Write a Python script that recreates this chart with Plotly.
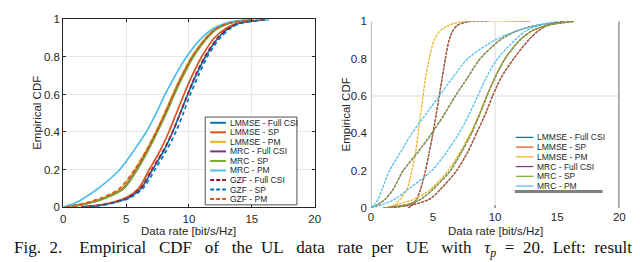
import plotly.graph_objects as go

W, H = 640, 262

# ---------------- data: left panel ----------------
cdf_left = [0, 0.01, 0.02, 0.05, 0.1, 0.2, 0.3, 0.4, 0.5, 0.6, 0.7, 0.8, 0.9, 0.95, 0.98, 1.0]
lmmse_full_L = [1.5, 3.0, 3.8, 5.2, 6.2, 7.1, 8.0, 8.7, 9.3, 9.9, 10.55, 11.3, 12.3, 13.1, 14.0, 16.3]
lmmse_sp_L = [1.4, 2.9, 3.6, 5.0, 6.0, 6.85, 7.7, 8.4, 9.0, 9.6, 10.25, 11.0, 12.0, 12.9, 13.9, 16.0]
lmmse_pm_L = [0.2, 1.1, 1.8, 3.2, 4.6, 5.7, 6.6, 7.35, 8.05, 8.7, 9.4, 10.2, 11.3, 12.1, 13.1, 15.0]
mrc_full_L = [0.3, 1.3, 2.0, 3.4, 4.8, 5.85, 6.7, 7.45, 8.15, 8.8, 9.5, 10.3, 11.4, 12.2, 13.2, 15.0]
mrc_sp_L = [0.3, 1.3, 2.0, 3.45, 4.85, 5.9, 6.75, 7.5, 8.2, 8.85, 9.55, 10.35, 11.45, 12.25, 13.25, 15.1]
mrc_pm_L = [0.0, 0.5, 0.9, 1.7, 2.8, 4.5, 5.6, 6.6, 7.4, 8.1, 8.9, 9.8, 11.0, 11.9, 12.9, 14.5]
gzf_full_L = [1.5, 3.0, 3.8, 5.15, 6.15, 7.05, 7.95, 8.7, 9.3, 9.9, 10.5, 11.25, 12.25, 13.1, 14.0, 16.2]
gzf_sp_L = [1.6, 3.1, 3.9, 5.35, 6.35, 7.3, 8.2, 8.95, 9.55, 10.1, 10.75, 11.45, 12.45, 13.25, 14.1, 16.4]
gzf_pm_L = [0.2, 1.0, 1.7, 3.1, 4.5, 5.7, 6.6, 7.4, 8.1, 8.75, 9.45, 10.25, 11.35, 12.15, 13.15, 15.2]

left_names = ["LMMSE - Full CSI", "LMMSE - SP", "LMMSE - PM", "MRC - Full CSI", "MRC - SP",
              "MRC - PM", "GZF - Full CSI", "GZF - SP", "GZF - PM"]

# ---------------- data: right panel ----------------
cdf_right = [0, 0.02, 0.05, 0.1, 0.2, 0.3, 0.4, 0.5, 0.6, 0.7, 0.8, 0.9, 0.95, 0.98, 1.0, 1.0]
lmmse_full_A = [3.0, 3.4, 3.7, 4.0, 4.4, 4.7, 5.0, 5.25, 5.5, 5.75, 6.0, 6.3, 6.6, 7.0, 8.0, 9.5]
lmmse_sp_A = [3.0, 3.4, 3.7, 4.0, 4.4, 4.7, 5.0, 5.25, 5.5, 5.75, 6.0, 6.3, 6.6, 7.0, 8.0, 12.8]
lmmse_pm_A = [1.6, 2.0, 2.4, 2.9, 3.3, 3.6, 3.8, 4.0, 4.2, 4.4, 4.7, 5.1, 5.6, 6.3, 7.5, 12.6]
mrc_full_A = [0.0, 0.6, 1.2, 1.8, 2.6, 3.8, 4.9, 5.9, 6.8, 7.8, 8.8, 10.4, 11.8, 13.5, 16.3, 16.3]
mrc_sp_A = [0.0, 0.6, 1.2, 1.8, 2.6, 3.8, 4.9, 5.9, 6.8, 7.8, 8.8, 10.4, 11.8, 13.5, 16.3, 16.3]
mrc_pm_A = [0.0, 0.3, 0.6, 0.9, 1.5, 2.4, 3.3, 4.4, 5.5, 6.6, 7.8, 10.0, 11.8, 13.5, 15.5, 15.5]
lmmse_full_B = [1.5, 3.5, 4.8, 5.6, 6.9, 7.8, 8.5, 9.2, 9.8, 10.5, 11.5, 12.7, 13.5, 14.3, 15.5, 15.5]
lmmse_sp_B = [1.5, 3.5, 4.8, 5.6, 6.9, 7.8, 8.5, 9.2, 9.8, 10.5, 11.5, 12.7, 13.5, 14.3, 15.5, 15.5]
lmmse_pm_B = [1.0, 2.2, 3.6, 4.8, 6.2, 7.2, 8.0, 8.7, 9.3, 10.0, 10.8, 12.0, 13.0, 14.3, 16.2, 16.2]
mrc_full_B = [1.0, 3.0, 4.1, 5.0, 6.4, 7.3, 8.1, 8.75, 9.35, 10.0, 10.8, 12.0, 13.0, 14.3, 16.4, 16.4]
mrc_sp_B = [1.0, 3.0, 4.1, 5.0, 6.4, 7.3, 8.1, 8.75, 9.35, 10.0, 10.8, 12.0, 13.0, 14.3, 16.4, 16.4]
mrc_pm_B = [0.0, 1.0, 2.0, 3.0, 4.9, 6.1, 7.1, 7.9, 8.6, 9.3, 10.2, 11.6, 12.5, 13.6, 15.0, 15.0]

right_names = ["LMMSE - Full CSI", "LMMSE - SP", "LMMSE - PM", "MRC - Full CSI", "MRC - SP", "MRC - PM"]

x_ticks = [0, 5, 10, 15, 20]
y_ticks = [0, 0.2, 0.4, 0.6, 0.8, 1]

caption_words = ["Fig.", "2.", "Empirical", "CDF", "of", "the", "UL", "data", "rate", "per", "UE",
                 "with", "<i>τ<sub>p</sub></i>", "=", "20.", "Left:", "result"]
caption_gaps = [2, 4, 3, 3, 3, 2, 3, 3, 2, 3, 3, 3, 2, 2, 2, 2]

# ---------------- styling ----------------
C_BLUE, C_ORANGE, C_YELLOW = "#0072BD", "#D95319", "#EDB120"
C_PURPLE, C_GREEN, C_LBLUE, C_RED = "#7E2F8E", "#77AC30", "#4DBEEE", "#A2142F"
left_colors = [C_BLUE, C_ORANGE, C_YELLOW, C_PURPLE, C_GREEN, C_LBLUE, C_RED, C_BLUE, C_ORANGE]
left_dash = ["solid"] * 6 + ["4px,3px"] * 3
right_colors = [C_BLUE, C_ORANGE, C_YELLOW, C_PURPLE, C_GREEN, C_LBLUE]
TXT = "#262626"
FONT = "Liberation Sans, Arial, sans-serif"


def px_x(p):
    return p / W


def px_y(p):
    return 1 - p / H


def dedup(xs, ys):
    ox, oy = [], []
    for a, b in zip(xs, ys):
        if ox and a == ox[-1] and b == oy[-1]:
            continue
        ox.append(a)
        oy.append(b)
    return ox, oy


fig = go.Figure()

left_series = [lmmse_full_L, lmmse_sp_L, lmmse_pm_L, mrc_full_L, mrc_sp_L, mrc_pm_L,
               gzf_full_L, gzf_sp_L, gzf_pm_L]
for name, xs, col, dsh in zip(left_names, left_series, left_colors, left_dash):
    fig.add_trace(go.Scatter(x=xs, y=cdf_left, mode="lines", name=name, showlegend=False,
                             line=dict(color=col, width=1.7, dash=dsh, shape="spline", smoothing=0.8),
                             xaxis="x", yaxis="y"))

right_groups = [
    [lmmse_full_A, lmmse_sp_A, lmmse_pm_A, mrc_full_A, mrc_sp_A, mrc_pm_A],
    [lmmse_full_B, lmmse_sp_B, lmmse_pm_B, mrc_full_B, mrc_sp_B, mrc_pm_B],
]
for grp in right_groups:
    for name, xs, col in zip(right_names, grp, right_colors):
        gx, gy = dedup(xs, cdf_right)
        fig.add_trace(go.Scatter(x=gx, y=gy, mode="lines", name=name, showlegend=False,
                                 line=dict(color=col, width=1.25, dash="3px,1px", shape="spline", smoothing=0.8),
                                 xaxis="x2", yaxis="y2"))

L_dom_x = [px_x(53), px_x(308)]
L_dom_y = [px_y(202.3), px_y(5.7)]
R_dom_x = [px_x(365), px_x(617)]
R_dom_y = [px_y(203.3), px_y(7.7)]

tickfont = dict(family=FONT, size=11.5, color=TXT)
fig.update_layout(
    width=W, height=H, margin=dict(l=0, r=0, t=0, b=0),
    paper_bgcolor="white", plot_bgcolor="white",
    xaxis=dict(domain=L_dom_x, range=[0, 20], tickvals=x_ticks, showgrid=True, gridcolor="#e8e8e8",
               zeroline=False, showline=True, mirror="ticks", linecolor=TXT, linewidth=1,
               ticks="inside", ticklen=3, tickcolor=TXT, tickfont=tickfont, anchor="y",
               ticklabelstandoff=1),
    yaxis=dict(domain=L_dom_y, range=[0, 1], tickvals=y_ticks, showgrid=True, gridcolor="#e8e8e8",
               zeroline=False, showline=True, mirror="ticks", linecolor=TXT, linewidth=1,
               ticks="inside", ticklen=3, tickcolor=TXT, tickfont=tickfont, anchor="x"),
    xaxis2=dict(domain=R_dom_x, range=[0, 20], tickvals=x_ticks, showgrid=False,
                zeroline=False, showline=False, ticks="", tickfont=tickfont, anchor="y2",
                ticklabelstandoff=1),
    yaxis2=dict(domain=R_dom_y, range=[0, 1], tickvals=y_ticks, showgrid=False,
                zeroline=False, showline=False, ticks="", tickfont=tickfont, anchor="x2",
                ticklabelstandoff=3),
)

shapes = []
annotations = []

# right panel grid lines and spines
shapes.append(dict(type="line", xref="x2", yref="y2", x0=10, x1=10, y0=0, y1=1,
                   line=dict(color="#e6e6e6", width=1.5), layer="below"))
shapes.append(dict(type="line", xref="x2", yref="y2", x0=0, x1=20, y0=0.6, y1=0.6,
                   line=dict(color="#e6e6e6", width=1.5), layer="below"))
shapes.append(dict(type="line", xref="x2", yref="y2", x0=0, x1=0, y0=0, y1=1,
                   line=dict(color="#8c8c8c", width=1.3)))
shapes.append(dict(type="line", xref="x2", yref="y2", x0=20, x1=20, y0=-0.03, y1=1,
                   line=dict(color="#333333", width=1.5)))
shapes.append(dict(type="line", xref="x2", yref="paper", x0=10, x1=10, y0=px_y(203.3), y1=px_y(200.5),
                   line=dict(color="#555555", width=1)))

# left legend (manual)
shapes.append(dict(type="rect", xref="paper", yref="paper", x0=px_x(197), x1=px_x(290),
                   y0=px_y(200), y1=px_y(108), line=dict(color=TXT, width=0.8), fillcolor="white"))
for i, (name, col, dsh) in enumerate(zip(left_names, left_colors, left_dash)):
    yy = 114 + 10 * i
    shapes.append(dict(type="line", xref="paper", yref="paper", x0=px_x(202), x1=px_x(218),
                       y0=px_y(yy), y1=px_y(yy), line=dict(color=col, width=2, dash=dsh if dsh == "solid" else "4px,2px")))
    annotations.append(dict(xref="paper", yref="paper", x=px_x(220.5), y=px_y(yy), text=name,
                            showarrow=False, xanchor="left", yanchor="middle",
                            font=dict(family=FONT, size=8.5, color=TXT)))

# right legend (manual)
for i, (name, col) in enumerate(zip(right_names, right_colors)):
    yy = 129.3 + 10.2 * i
    shapes.append(dict(type="line", xref="paper", yref="paper", x0=px_x(512), x1=px_x(530),
                       y0=px_y(yy), y1=px_y(yy), line=dict(color=col, width=1.2)))
    annotations.append(dict(xref="paper", yref="paper", x=px_x(531.5), y=px_y(yy), text=name,
                            showarrow=False, xanchor="left", yanchor="middle",
                            font=dict(family=FONT, size=8.5, color=TXT)))
shapes.append(dict(type="line", xref="paper", yref="paper", x0=px_x(511), x1=px_x(600),
                   y0=px_y(186), y1=px_y(186), line=dict(color="#808080", width=3)))

# axis titles
title_font = dict(family=FONT, size=11.5, color=TXT)
for cx in (180.5, 491):
    annotations.append(dict(xref="paper", yref="paper", x=px_x(cx), y=px_y(227),
                            text="Data rate [bit/s/Hz]", showarrow=False,
                            xanchor="center", yanchor="middle", font=title_font))
for cx, cy in ((27, 104), (340, 105)):
    annotations.append(dict(xref="paper", yref="paper", x=px_x(cx), y=px_y(cy),
                            text="Empirical CDF", showarrow=False, textangle=-90,
                            xanchor="center", yanchor="middle", font=title_font))

# caption (justified line: widened word gaps)
caption_text = caption_words[0]
for g, w in zip(caption_gaps, caption_words[1:]):
    caption_text += "&nbsp;" * g + w
annotations.append(dict(xref="paper", yref="paper", x=px_x(1), y=px_y(246),
                        text=caption_text,
                        showarrow=False, xanchor="left", yanchor="middle",
                        font=dict(family="Liberation Serif, Times New Roman, serif", size=17, color="#111111")))

fig.update_layout(shapes=shapes, annotations=annotations)
fig.write_html("out.html")
